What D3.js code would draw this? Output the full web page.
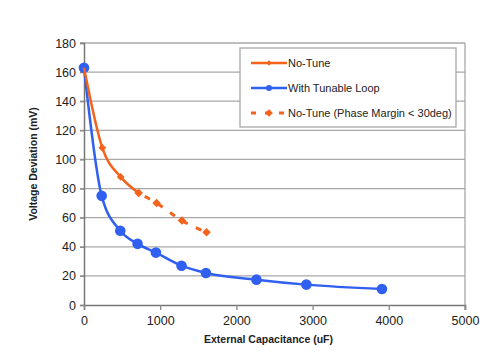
<!DOCTYPE html>
<html>
<head>
<meta charset="utf-8">
<script src="https://cdn.jsdelivr.net/npm/d3@7"></script>
<style>
  body { margin: 0; background: #fff; }
  svg { font-family: "Liberation Sans", Arial, sans-serif; }
</style>
</head>
<body>
<div id="chart"></div>
<script>
// data
const tuneCap = [0, 240, 481, 717];
const tuneMv = [163, 108, 88, 77];
const lowPmCap = [717, 952, 1285, 1608];
const lowPmMv = [77, 70, 58, 50];
const loopCap = [0, 232, 476, 703, 944, 1280, 1600, 2263, 2918, 3910];
const loopMv = [163, 75, 51, 42, 36, 27, 22, 17.4, 14, 11];
const xTicks = [0, 1000, 2000, 3000, 4000, 5000];
const yTicks = [0, 20, 40, 60, 80, 100, 120, 140, 160, 180];
const legendNames = ["No-Tune", "With Tunable Loop", "No-Tune (Phase Margin < 30deg)"];

const orange = "#f5621c", blue = "#3060f0";

const W = 482, H = 352;
const margin = {top: 43, right: 17, bottom: 47, left: 84};
const width = W - margin.left - margin.right;
const height = H - margin.top - margin.bottom;

const svg = d3.select("#chart").append("svg")
    .attr("width", W).attr("height", H);
const g = svg.append("g").attr("transform", `translate(${margin.left},${margin.top})`);

const x = d3.scaleLinear().domain([0, 5000]).range([0, width]);
const y = d3.scaleLinear().domain([0, 180]).range([height, 0]);

// gridlines
g.append("g")
  .selectAll("line").data(yTicks.slice(1)).join("line")
    .attr("x1", -4).attr("x2", width)
    .attr("y1", d => y(d)).attr("y2", d => y(d))
    .attr("stroke", "#a8a8a8").attr("stroke-width", 1.3);
g.append("line")
    .attr("x1", width).attr("x2", width).attr("y1", 0).attr("y2", height + 5)
    .attr("stroke", "#a8a8a8").attr("stroke-width", 1.3);

// axes
const yAxis = g.append("g")
    .call(d3.axisLeft(y).tickValues(yTicks).tickSize(4).tickPadding(4));
const xAxis = g.append("g").attr("transform", `translate(0,${height})`)
    .call(d3.axisBottom(x).tickValues(xTicks).tickFormat(d3.format("d")).tickSize(5).tickPadding(6));
[xAxis, yAxis].forEach(a => {
  a.select(".domain").attr("stroke", "#777").attr("stroke-width", 1.5);
  a.selectAll(".tick line").attr("stroke", "#888").attr("stroke-width", 1.3);
  a.selectAll(".tick text").style("font-size", "12.5px").attr("fill", "#222");
});

// axis titles
g.append("text")
    .attr("x", width / 2 - 6).attr("y", height + 38)
    .attr("text-anchor", "middle")
    .style("font-size", "10.5px").style("font-weight", "bold").attr("fill", "#222")
    .text("External Capacitance (uF)");
g.append("text")
    .attr("transform", `translate(${-47},${height / 2 - 10}) rotate(-90)`)
    .attr("text-anchor", "middle")
    .style("font-size", "10.5px").style("font-weight", "bold").attr("fill", "#222")
    .text("Voltage Deviation (mV)");

const smooth = d3.line().x(d => x(d[0])).y(d => y(d[1])).curve(d3.curveMonotoneX);
// square turned 45deg -> even diamond
const diamond = s => d3.symbol().type(d3.symbolSquare).size(s)();

// With Tunable Loop
const loopPts = d3.zip(loopCap, loopMv);
g.append("path").datum(loopPts)
    .attr("d", smooth).attr("fill", "none")
    .attr("stroke", blue).attr("stroke-width", 2.5);
g.selectAll(".loop-pt").data(loopPts).join("circle")
    .attr("class", "loop-pt")
    .attr("cx", d => x(d[0])).attr("cy", d => y(d[1])).attr("r", 5.3)
    .attr("fill", blue);

// No-Tune
const tunePts = d3.zip(tuneCap, tuneMv);
g.append("path").datum(tunePts)
    .attr("d", smooth).attr("fill", "none")
    .attr("stroke", orange).attr("stroke-width", 2.5);
g.selectAll(".tune-pt").data(tunePts.slice(1)).join("path")
    .attr("class", "tune-pt")
    .attr("transform", d => `translate(${x(d[0])},${y(d[1])}) rotate(45)`)
    .attr("d", diamond(30)).attr("fill", orange);

// No-Tune, low phase margin (dashed)
const lowPts = d3.zip(lowPmCap, lowPmMv);
g.append("path").datum(lowPts)
    .attr("d", smooth).attr("fill", "none")
    .attr("stroke", orange).attr("stroke-width", 3)
    .attr("stroke-dasharray", "6,9").attr("stroke-dashoffset", -7);
g.selectAll(".low-pt").data(lowPts).join("path")
    .attr("class", "low-pt")
    .attr("transform", d => `translate(${x(d[0])},${y(d[1])}) rotate(45)`)
    .attr("d", diamond(36)).attr("fill", orange);

// legend
const leg = svg.append("g").attr("transform", "translate(240,48)");
leg.append("rect")
    .attr("width", 216).attr("height", 79)
    .attr("fill", "#fff").attr("stroke", "#a8a8a8").attr("stroke-width", 1.3);
const rows = leg.selectAll(".row").data(legendNames).join("g")
    .attr("class", "row")
    .attr("transform", (d, i) => `translate(0,${15 + i * 25})`);
rows.append("line")
    .attr("x1", 11).attr("x2", 47).attr("y1", 0).attr("y2", 0)
    .attr("stroke", (d, i) => i === 1 ? blue : orange)
    .attr("stroke-width", (d, i) => i === 2 ? 3 : 2.5)
    .attr("stroke-dasharray", (d, i) => i === 2 ? "5,9" : null);
rows.each(function(d, i) {
  const r = d3.select(this);
  if (i === 1) r.append("circle").attr("cx", 29).attr("r", 3).attr("fill", blue);
  else r.append("path").attr("transform", "translate(29,0) rotate(45)")
         .attr("d", diamond(i === 2 ? 30 : 14)).attr("fill", orange);
});
rows.append("text")
    .attr("x", 48).attr("dy", "0.35em")
    .style("font-size", "11px").attr("fill", "#222")
    .text(d => d);
</script>
</body>
</html>
